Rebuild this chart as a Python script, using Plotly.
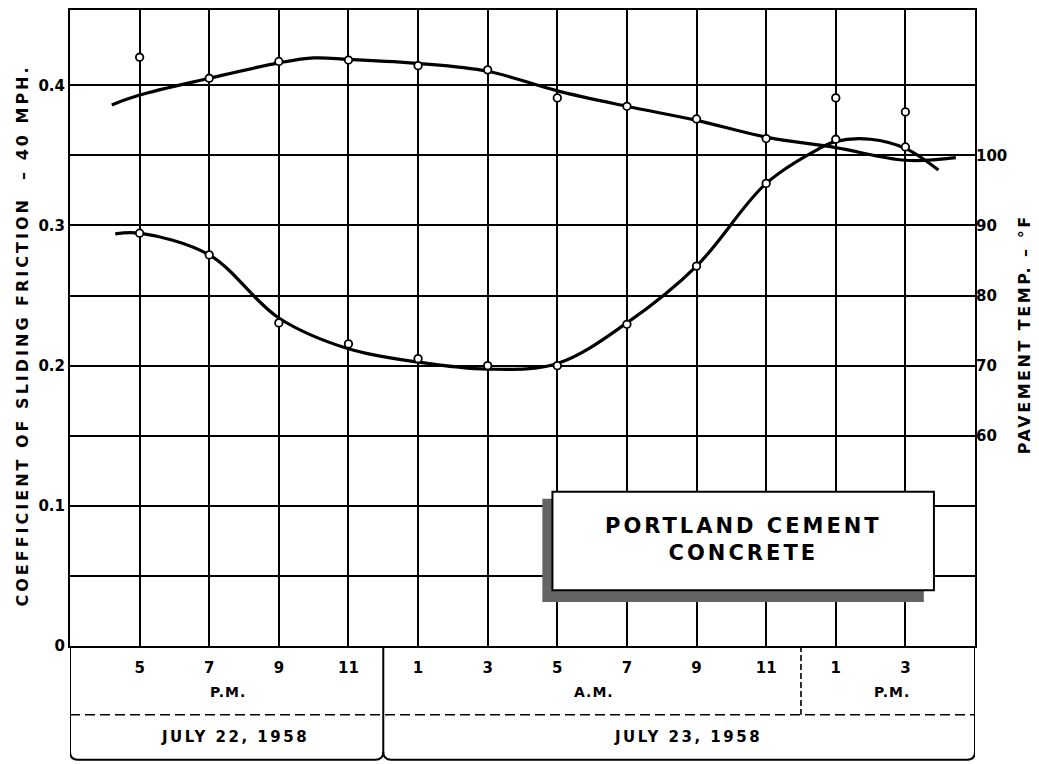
import plotly.graph_objects as go

# Time axis: hours counted from midnight starting July 22, 1958
hours = [17, 19, 21, 23, 25, 27, 29, 31, 33, 35, 37, 39]
hour_labels = ["5", "7", "9", "11", "1", "3", "5", "7", "9", "11", "1", "3"]

# Observed values
friction_obs = [0.420, 0.405, 0.417, 0.418, 0.414, 0.411, 0.391, 0.385, 0.376, 0.362, 0.391, 0.381]
temp_obs = [88.9, 85.8, 76.1, 73.1, 71.0, 70.0, 70.0, 75.9, 84.2, 96.0, 102.3, 101.2]

# Faired curves through the observations
friction_curve_hours = [16.2, 17, 19, 21, 22, 23, 25, 27, 29, 31, 33, 35, 37, 39, 40.45]
friction_curve = [0.386, 0.393, 0.405, 0.416, 0.4195, 0.4185, 0.4156, 0.410, 0.396, 0.385,
                  0.375, 0.363, 0.3555, 0.3465, 0.3484]
temp_curve_hours = [16.3, 17, 19, 21, 23, 25, 27, 29, 31, 33, 35, 36.5, 37, 38, 39, 39.95]
temp_curve = [88.8, 88.9, 85.8, 76.8, 72.4, 70.5, 69.5, 70.3, 76.1, 84.2, 96.0, 100.9,
              102.0, 102.3, 101.0, 97.9]

# Axis ticks
friction_ticks = [0, 0.05, 0.1, 0.15, 0.2, 0.25, 0.3, 0.35, 0.4]
friction_tick_text = ["0", "", "0.1", "", "0.2", "", "0.3", "", "0.4"]
temp_ticks = [60, 70, 80, 90, 100]
temp_tick_text = ["60", "70", "80", "90", "100"]

FONT = "DejaVu Sans"
Y_TOP = 0.4537
# temperature scale: 10 deg F per 0.05 friction, 70 F on the 0.2 line
T_LOW = 70 - 0.2 / 0.005
T_HIGH = 70 + (Y_TOP - 0.2) / 0.005


def bold(size):
    return dict(family=FONT, size=size, color="black", weight="bold")


def spaced(text, px):
    # stencil-style lettering with extra tracking
    return "<br>".join(f'<span style="letter-spacing:{px}px">{line}</span>'
                       for line in text.split("\n"))


fig = go.Figure()

fig.add_trace(go.Scatter(
    x=friction_curve_hours, y=friction_curve, mode="lines",
    line=dict(color="black", width=3.2, shape="spline", smoothing=1.0),
    hoverinfo="skip", showlegend=False))
fig.add_trace(go.Scatter(
    x=temp_curve_hours, y=temp_curve, mode="lines", yaxis="y2",
    line=dict(color="black", width=3.2, shape="spline", smoothing=1.0),
    hoverinfo="skip", showlegend=False))
fig.add_trace(go.Scatter(
    x=hours, y=friction_obs, mode="markers",
    marker=dict(symbol="circle", size=7.5, color="white", line=dict(color="black", width=1.8)),
    showlegend=False, name="Friction"))
fig.add_trace(go.Scatter(
    x=hours, y=temp_obs, mode="markers", yaxis="y2",
    marker=dict(symbol="circle", size=7.5, color="white", line=dict(color="black", width=1.8)),
    showlegend=False, name="Pavement temp."))

# Lower time-scale frame (hour row, dashed separator, date row with rounded corners)
yb = -0.1787
ry = 0.0125
rx = 0.23
y_dash = -0.1082
shapes = [
    dict(type="path", xref="x", yref="paper",
         path=f"M 15,0 L 15,{yb + ry} Q 15,{yb} {15 + rx},{yb} L {24 - rx},{yb} "
              f"Q 24,{yb} 24,{yb + ry} L 24,0",
         line=dict(color="black", width=2)),
    dict(type="path", xref="x", yref="paper",
         path=f"M 24,{yb + ry} Q 24,{yb} {24 + rx},{yb} L {41 - rx},{yb} "
              f"Q 41,{yb} 41,{yb + ry} L 41,0",
         line=dict(color="black", width=2)),
    dict(type="line", xref="x", yref="paper", x0=15, x1=41, y0=y_dash, y1=y_dash,
         line=dict(color="black", width=1.6, dash="10px,5px")),
    dict(type="line", xref="x", yref="paper", x0=36, x1=36, y0=0, y1=y_dash,
         line=dict(color="black", width=1.6, dash="6px,3px")),
    # label box with stippled shadow
    dict(type="rect", xref="x", yref="y", x0=28.57, x1=39.53, y0=0.0314, y1=0.105,
         fillcolor="#646464", line=dict(width=0), layer="above"),
    dict(type="rect", xref="x", yref="y", x0=28.86, x1=39.82, y0=0.0397, y1=0.1101,
         fillcolor="white", line=dict(color="black", width=2), layer="above"),
]


def label(text, x, y, size, xref="x", yref="paper", angle=0, track=0):
    return dict(text=spaced(text, track) if track else text, x=x, y=y,
                xref=xref, yref=yref, showarrow=False,
                xanchor="center", yanchor="middle", textangle=angle, align="center",
                font=bold(size))


annotations = [
    label("COEFFICIENT OF SLIDING FRICTION  – 40 MPH.", -0.052, 0.488, 16,
          xref="paper", angle=-90, track=3),
    label("PAVEMENT TEMP. – °F", 1.054, 0.49, 16, xref="paper", angle=-90, track=2.5),
    label("P.M.", 19.53, -0.0721, 14, track=1),
    label("A.M.", 30.06, -0.0721, 14, track=1),
    label("P.M.", 38.62, -0.0721, 14, track=1),
    label("JULY 22, 1958", 19.73, -0.1426, 15, track=2.5),
    label("JULY 23, 1958", 32.76, -0.1426, 15, track=2.5),
    label("PORTLAND CEMENT\nCONCRETE", 34.34, 0.0759, 21, yref="y", track=3),
]

fig.update_layout(
    width=1039, height=764,
    margin=dict(l=70, r=64, t=8, b=118),
    paper_bgcolor="white", plot_bgcolor="white",
    font=dict(family=FONT, color="black"),
    shapes=shapes, annotations=annotations,
    xaxis=dict(range=[15, 41], tickvals=hours, ticktext=hour_labels,
               showgrid=True, gridcolor="black", gridwidth=1.6,
               showline=True, linecolor="black", linewidth=2, mirror=True,
               zeroline=False, ticks="", ticklabelstandoff=7,
               tickfont=bold(15)),
    yaxis=dict(range=[0, Y_TOP], tickvals=friction_ticks, ticktext=friction_tick_text,
               showgrid=True, gridcolor="black", gridwidth=1.6,
               showline=True, linecolor="black", linewidth=2, mirror=True,
               zeroline=False, ticks="", tickfont=bold(15)),
    yaxis2=dict(range=[T_LOW, T_HIGH], overlaying="y", side="right",
                tickvals=temp_ticks, ticktext=temp_tick_text,
                showgrid=False, zeroline=False, ticks="", tickfont=bold(15)),
)

fig.write_html("out.html")
